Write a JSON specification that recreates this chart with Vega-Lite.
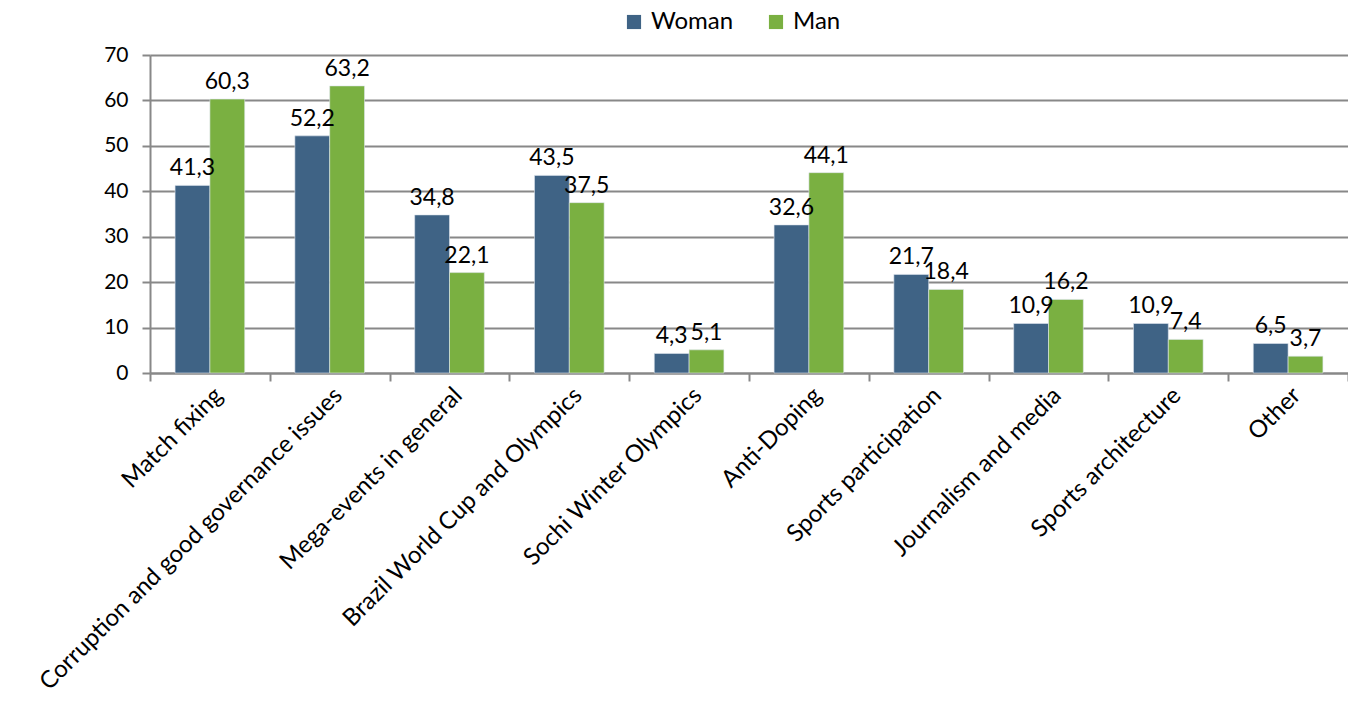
{
  "$schema": "https://vega.github.io/schema/vega-lite/v6.json",
  "autosize": "none",
  "width": 1198,
  "height": 318,
  "padding": {"left": 150, "top": 55, "right": 0, "bottom": 342},
  "background": "white",
  "config": {
    "locale": {"number": {"decimal": ",", "thousands": ".", "grouping": [3], "currency": ["", ""]}},
    "view": {"stroke": null},
    "font": "Lato"
  },
  "data": {
    "values": [
      {"topic": "Match fixing", "gender": "Woman", "value": 41.3},
      {"topic": "Match fixing", "gender": "Man", "value": 60.3},
      {"topic": "Corruption and good governance issues", "gender": "Woman", "value": 52.2},
      {"topic": "Corruption and good governance issues", "gender": "Man", "value": 63.2},
      {"topic": "Mega-events in general", "gender": "Woman", "value": 34.8},
      {"topic": "Mega-events in general", "gender": "Man", "value": 22.1},
      {"topic": "Brazil World Cup and Olympics", "gender": "Woman", "value": 43.5},
      {"topic": "Brazil World Cup and Olympics", "gender": "Man", "value": 37.5},
      {"topic": "Sochi Winter Olympics", "gender": "Woman", "value": 4.3},
      {"topic": "Sochi Winter Olympics", "gender": "Man", "value": 5.1},
      {"topic": "Anti-Doping", "gender": "Woman", "value": 32.6},
      {"topic": "Anti-Doping", "gender": "Man", "value": 44.1},
      {"topic": "Sports participation", "gender": "Woman", "value": 21.7},
      {"topic": "Sports participation", "gender": "Man", "value": 18.4},
      {"topic": "Journalism and media", "gender": "Woman", "value": 10.9},
      {"topic": "Journalism and media", "gender": "Man", "value": 16.2},
      {"topic": "Sports architecture", "gender": "Woman", "value": 10.9},
      {"topic": "Sports architecture", "gender": "Man", "value": 7.4},
      {"topic": "Other", "gender": "Woman", "value": 6.5},
      {"topic": "Other", "gender": "Man", "value": 3.7}
    ]
  },
  "encoding": {
    "x": {
      "field": "topic", "type": "nominal", "sort": null,
      "scale": {"paddingInner": 0, "paddingOuter": 0},
      "axis": {
        "title": null, "labelAngle": -45, "labelFontSize": 24, "labelColor": "#000000",
        "labelFont": "Lato", "tickBand": "extent", "tickSize": 8, "tickWidth": 2,
        "tickColor": "#888888", "domainColor": "#888888", "domainWidth": 2,
        "labelPadding": 2, "labelOffset": 0, "labelLimit": 0, "grid": false
      }
    },
    "xOffset": {
      "field": "gender", "type": "nominal", "sort": ["Woman", "Man"],
      "scale": {"paddingInner": 0, "paddingOuter": 0.72}
    },
    "y": {
      "field": "value", "type": "quantitative",
      "scale": {"domain": [0, 70], "nice": false},
      "axis": {
        "title": null, "values": [0, 10, 20, 30, 40, 50, 60, 70], "labelFontSize": 21,
        "labelColor": "#000000", "labelFont": "Lato", "tickSize": 8, "tickWidth": 2,
        "tickColor": "#888888", "domainColor": "#888888", "domainWidth": 2,
        "gridColor": "#888888", "gridWidth": 2, "labelPadding": 14
      }
    }
  },
  "layer": [
    {
      "mark": {"type": "bar", "stroke": "#dfe6ee", "strokeWidth": 0.6},
      "encoding": {
        "color": {
          "field": "gender", "type": "nominal",
          "scale": {"domain": ["Woman", "Man"], "range": ["#3F6385", "#7AB041"]},
          "legend": {
            "title": null, "orient": "none", "direction": "horizontal",
            "legendX": 472, "legendY": -45, "symbolType": "square", "symbolSize": 200,
            "symbolStrokeWidth": 0, "labelFontSize": 24, "labelFont": "Lato", "labelColor": "#000000",
            "columnPadding": 30, "labelOffset": 5
          }
        }
      }
    },
    {
      "mark": {"type": "text", "baseline": "bottom", "dy": -5, "fontSize": 23, "font": "Lato", "color": "#000000"},
      "encoding": {
        "text": {"field": "value", "type": "quantitative", "format": ".1f"}
      }
    }
  ]
}
